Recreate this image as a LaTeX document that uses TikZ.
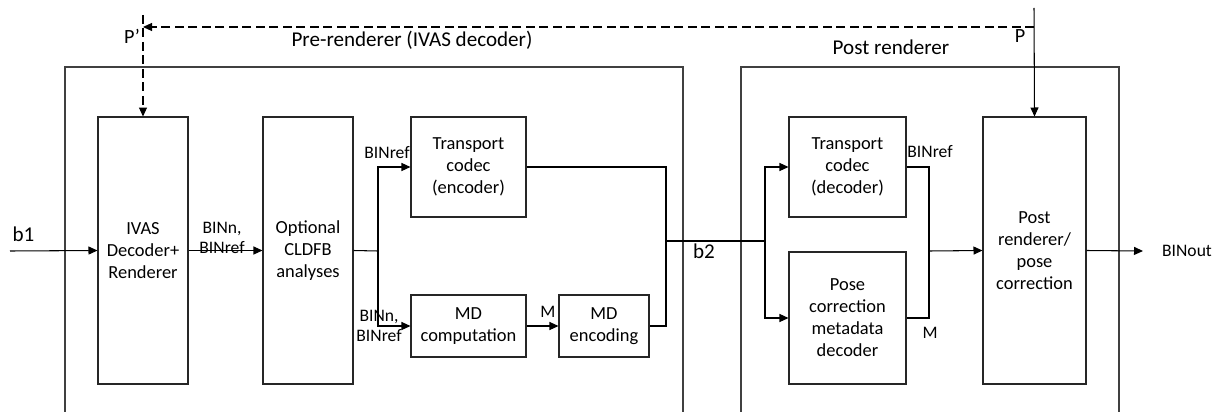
\documentclass[tikz,border=0pt]{standalone}
\usepackage{fontspec}
\setmainfont{Carlito}
\usetikzlibrary{arrows.meta,positioning}
\tikzset{
myBlock/.style={
	rectangle,draw=black!85,line width=0.6pt,
	inner sep=0pt,align=center,
	font=\fontsize{10.5}{12.5}\selectfont
}
, myLabel/.style={
	inner sep=0pt,align=center,
	font=\fontsize{10}{11.5}\selectfont
}
, myTitle/.style={
	inner sep=0pt,font=\fontsize{12}{14}\selectfont
}
, myFrame/.style={draw=black!75,line width=0.6pt}
% link
, myWire/.style={line width=0.6pt}
, myLink/.style={-{Triangle[length=1.8mm,width=1.6mm]},line width=0.6pt}
, myPose/.style={-{Triangle[length=1.8mm,width=1.6mm]},line width=0.6pt,
	dash pattern=on 1.8mm off 0.9mm}
}
\begin{document}
\begin{tikzpicture}[x=0.02cm,y=-0.02cm]
	\useasboundingbox (0,0) rectangle (1223,412);
	% frames
	\draw[myFrame] (65,412) |- (683,67) -- (683,412);
	\draw[myFrame] (741,412) |- (1119,67) -- (1119,412);
	\node[myTitle] (PreTitle) at (412,40) {Pre-renderer (IVAS decoder)};
	\node[myTitle] (PostTitle) at (891,47) {Post renderer};

	% nodes
	\node[myBlock,minimum width=1.8cm,minimum height=5.34cm] (IVAS) at (143,250.5) {IVAS\\Decoder+\\Renderer};
	\node[myBlock,minimum width=1.8cm,minimum height=5.34cm] (CLDFB) at (308,250.5) {Optional\\CLDFB\\analyses};
	\node[myBlock,minimum width=2.3cm,minimum height=2cm] (TransEnc) at (468.5,167) {Transport\\codec\\(encoder)};
	\node[myBlock,minimum width=2.3cm,minimum height=1.24cm] (MDComp) at (468.5,326) {MD\\computation};
	\node[myBlock,minimum width=1.8cm,minimum height=1.24cm] (MDEnc) at (604,326) {MD\\encoding};
	\node[myBlock,minimum width=2.34cm,minimum height=2cm] (TransDec) at (847.5,167) {Transport\\codec\\(decoder)};
	\node[myBlock,minimum width=2.34cm,minimum height=2.64cm] (PoseDec) at (847.5,318) {Pose\\correction\\metadata\\decoder};
	\node[myBlock,minimum width=2.06cm,minimum height=5.34cm] (PostRend) at (1034.5,250.5) {Post\\renderer/\\pose\\correction};

	% points
	\coordinate (InB1) at (10,251);
	\coordinate (SplitA) at (378,251);
	\coordinate (JoinA) at (666,241);
	\coordinate (SplitB) at (765,241);
	\coordinate (JoinB) at (929,251);
	\coordinate (OutEnd) at (1143,251);
	\coordinate (PTop) at (1034,8);
	\coordinate (PJoin) at (1034,27);
	\coordinate (PPrime) at (143,27);
	\coordinate (PPrimeTop) at (143,15);

	% links
	\draw[myLink] (InB1) -- (IVAS.west);
	\draw[myLink] (IVAS.east) -- (CLDFB.west);
	\draw[myWire] (CLDFB.east) -- (SplitA);
	\draw[myLink] (SplitA) |- (TransEnc.west);
	\draw[myLink] (SplitA) |- (MDComp.west);
	\draw[myLink] (MDComp.east) -- (MDEnc.west);
	\draw[myWire] (TransEnc.east) -| (JoinA) |- (MDEnc.east);
	\draw[myWire] (JoinA) -- (SplitB);
	\draw[myLink] (SplitB) |- (TransDec.west);
	\draw[myLink] (SplitB) |- (PoseDec.west);
	\draw[myWire] (TransDec.east) -| (JoinB) |- (PoseDec.east);
	\draw[myLink] (JoinB) -- (PostRend.west);
	\draw[myLink] (PostRend.east) -- (OutEnd);
	\draw[myLink] (PTop) -- (PostRend.north);
	\draw[myPose] (PJoin) -- (PPrime);
	\draw[myPose] (PPrimeTop) -- (IVAS.north);

	% labels
	\node[inner sep=0pt,font=\fontsize{12}{14}\selectfont] (LblB1) at (23.5,234) {b1};
	\node[inner sep=0pt,font=\fontsize{12}{14}\selectfont] (LblB2) at (704,251) {b2};
	\node[myLabel,font=\fontsize{11.5}{13}\selectfont] (LblP) at (1020,36) {P};
	\node[myLabel,font=\fontsize{11.5}{13}\selectfont] (LblPPrime) at (132,36) {P’};
	\node[myLabel] (LblBinA) at (222,238) {BINn,\\BINref};
	\node[myLabel] (LblBinRefA) at (387,153) {BINref};
	\node[myLabel] (LblBinB) at (379,326) {BINn,\\BINref};
	\node[myLabel] (LblMA) at (548,312) {M};
	\node[myLabel] (LblBinRefB) at (930,152) {BINref};
	\node[myLabel] (LblMB) at (930,333) {M};
	\node[myLabel] (LblOut) at (1187,251) {BINout};
\end{tikzpicture}
\end{document}
